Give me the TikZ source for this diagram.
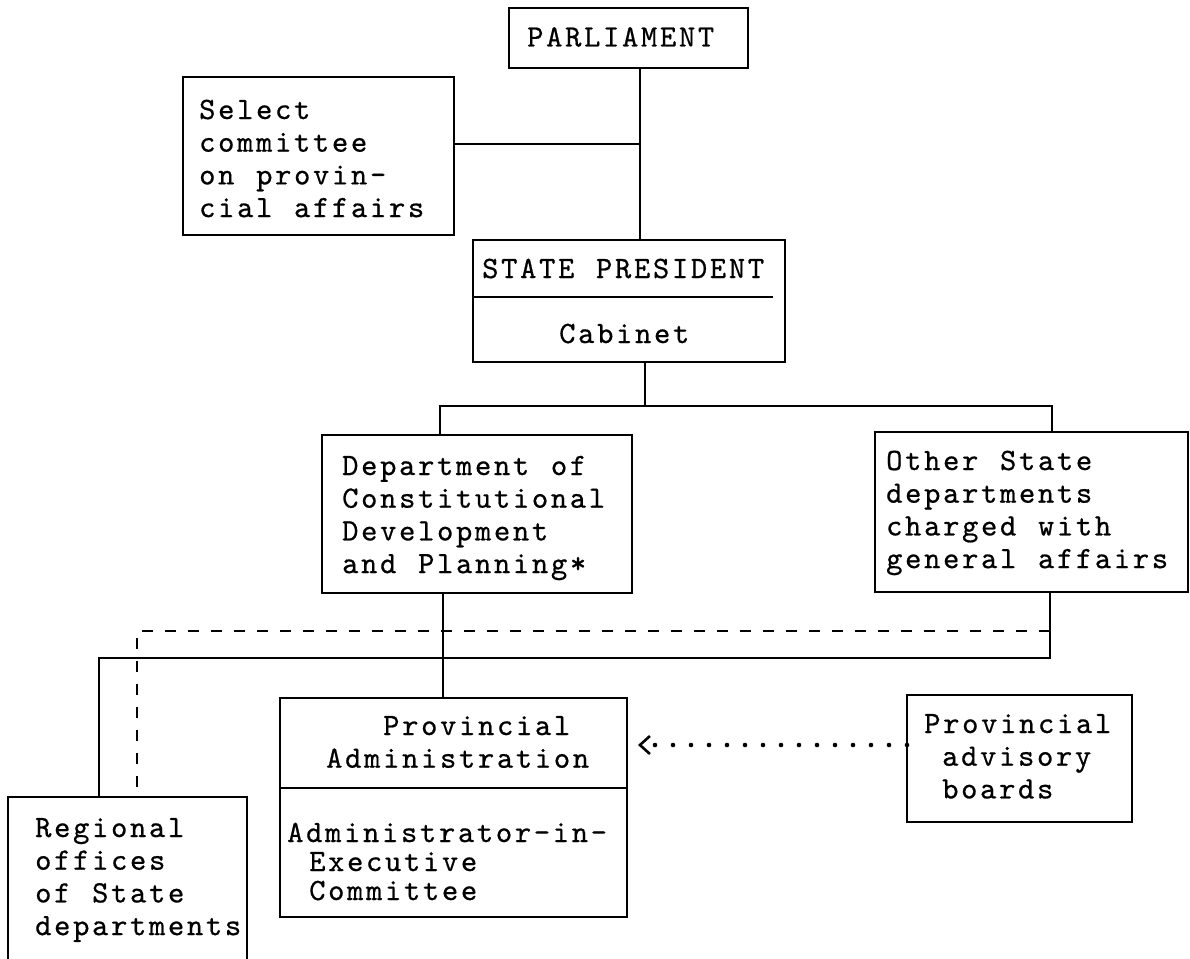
\documentclass[tikz,border=0pt]{standalone}
\usepackage{fontspec}
\usetikzlibrary{arrows.meta,calc}
% typewriter face with the wide pitch of the original typescript
\newfontfamily\typewriter{lmmono10-regular.otf}[LetterSpace=8.7,FakeBold=0.6]
\newcommand\twfont[1]{\typewriter\fontsize{31}{#1}\selectfont}
% word space of one full typewriter pitch
\newcommand\tsp{\hspace*{21.7pt}}

\begin{document}
\begin{tikzpicture}[x=1pt,y=-1pt,
  box/.style={draw, line width=1.7pt, inner sep=0pt, outer sep=0pt, anchor=north west},
  txt/.style={font=\twfont{32.7}, anchor=base west, inner sep=0pt, text width=340pt},
  link/.style={line width=1.4pt},
  dashlink/.style={line width=1.6pt, dash pattern=on 11pt off 12pt},
  dotlink/.style={line width=4.6pt, line cap=round, dash pattern=on 0pt off 18pt,
    -{Straight Barb[length=10pt,width=18pt,line width=2.6pt]}}]
\useasboundingbox (0,0) rectangle (1190,958);
\clip (0,0) rectangle (1190,958);

% boxes
\node[box, minimum width=239pt, minimum height=60pt]  (parl)  at (509,8)   {};
\node[box, minimum width=271pt, minimum height=158pt] (sel)   at (183,77)  {};
\node[box, minimum width=312pt, minimum height=122pt] (sp)    at (473,240) {};
\node[box, minimum width=310pt, minimum height=158pt] (dept)  at (322,435) {};
\node[box, minimum width=313pt, minimum height=160pt] (other) at (875,432) {};
\node[box, minimum width=347pt, minimum height=219pt] (pa)    at (280,698) {};
\node[box, minimum width=225pt, minimum height=127pt] (adv)   at (907,695) {};
\node[box, minimum width=239pt, minimum height=220pt] (reg)   at (8,797)   {};

% dividers of the two-part boxes
\draw[line width=1.6pt] ($(sp.north west)+(0,57)$) -- ($(sp.north east)+(-12,57)$);
\draw[line width=1.6pt] ($(pa.north west)+(0,90)$) -- ($(pa.north east)+(0,90)$);

% texts
\node[txt] (parlT)  at (527,46.5) {PARLIAMENT};
\node[txt] (selT)   at (199,119)  {Select\\committee\\on\tsp provin-\\cial\tsp affairs};
\node[txt] (spT)    at (482,278)  {STATE\tsp PRESIDENT};
\node[txt] (cabT)   at (559,343)  {Cabinet};
\node[txt] (deptT)  at (342,475)  {Department\tsp of\\Constitutional\\Development\\and\tsp Planning*};
\node[txt, text width=300pt] (otherT) at (886,470) {Other\tsp State\\departments\\charged\tsp with\\general\tsp affairs};
\node[txt] (paT)    at (326,735)  {\hspace*{57pt}Provincial\\Administration};
\node[txt, font=\twfont{29}] (exT) at (287,842)
  {Administrator-in-\\\hspace*{22pt}Executive\\\hspace*{22pt}Committee};
\node[txt, text width=260pt] (advT) at (924,733) {Provincial\\\hspace*{18pt}advisory\\\hspace*{18pt}boards};
\node[txt] (regT)   at (35,837)   {Regional\\offices\\of\tsp State\\departments};

% connectors
\coordinate (j1) at (640,144);
\draw[link] (j1 |- parl.south) -- (j1 |- sp.north);
\draw[link] (sel.east |- j1) -- (j1);

\coordinate (b0) at (645,406);
\coordinate (bl) at (440,406);
\coordinate (br) at (1052,406);
\draw[link] (b0 |- sp.south) -- (b0);
\draw[link] (bl |- dept.north) -- (bl) -- (br) -- (br |- other.north);

\coordinate (d0) at (443,650);
\draw[link] (d0 |- dept.south) -- (d0 |- pa.north);

\coordinate (s1) at (1050,658);
\coordinate (s2) at (99,658);
\draw[link] (s1 |- other.south) -- (s1) -- (s2) -- (s2 |- reg.north);

\coordinate (t1) at (1050,631);
\coordinate (t2) at (137,631);
\draw[dashlink] (t1) -- (t2) -- (t2 |- reg.north);

\coordinate (ay) at (0,745);
\draw[dotlink] (adv.west |- ay) -- ($(pa.east |- ay)+(11,0)$);
\end{tikzpicture}
\end{document}
